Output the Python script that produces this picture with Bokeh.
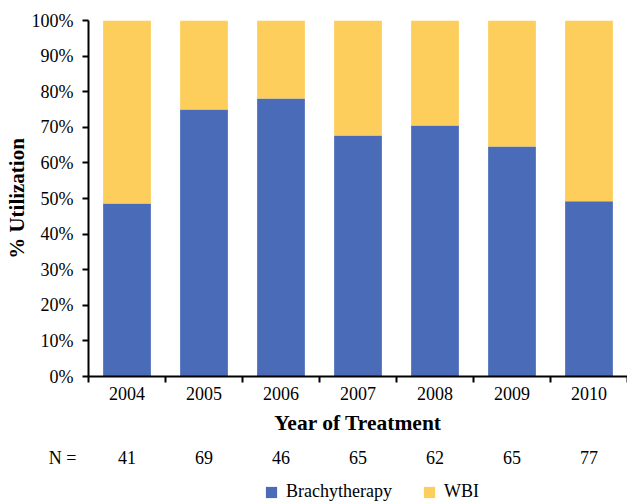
from bokeh.plotting import figure
from bokeh.layouts import column
from bokeh.models import (FixedTicker, LinearAxis, Range1d, Legend, LegendItem,
                          ColumnDataSource)
from bokeh.core.properties import value
from bokeh.embed import file_html
from bokeh.resources import INLINE

years = ["2004", "2005", "2006", "2007", "2008", "2009", "2010"]
brachy = [48.6, 75.0, 78.1, 67.7, 70.5, 64.6, 49.2]
wbi = [round(100 - b, 1) for b in brachy]
n_values = ["41", "69", "46", "65", "62", "65", "77"]
y_ticks = list(range(0, 101, 10))
series_names = ["Brachytherapy", "WBI"]

BLUE = "#4A6BB7"
YELLOW = "#FECE5C"
FONT = "Liberation Serif"

xs = list(range(1, len(years) + 1))
src = ColumnDataSource(dict(x=xs, brachy=brachy, wbi=wbi))

W = 627
TOP_H = 440
BOT_H = 62
LEFT = 88
N_ROW_Y = BOT_H - 17

# ---------------- main chart ----------------
p = figure(width=W, height=TOP_H, output_backend="svg", toolbar_location=None,
           x_range=Range1d(0.5, len(years) + 0.5), y_range=Range1d(0, 100),
           min_border_left=LEFT, min_border_right=0, min_border_top=20,
           min_border_bottom=TOP_H - 376, x_axis_location=None)
p.outline_line_color = None
p.grid.visible = False

rs = p.vbar_stack(["brachy", "wbi"], x="x", width=0.62, source=src,
                  color=[BLUE, YELLOW], line_color=None)

ya = p.yaxis[0]
ya.ticker = FixedTicker(ticks=y_ticks, minor_ticks=[])
ya.major_label_overrides = {t: f"{t}%" for t in y_ticks}
ya.axis_line_width = 2
ya.axis_line_color = "black"
ya.major_tick_line_width = 2
ya.major_tick_in = 0
ya.major_tick_out = 6
ya.minor_tick_line_color = None
ya.major_label_standoff = 9
ya.major_label_text_font = FONT
ya.major_label_text_font_size = "18px"
ya.major_label_text_color = "black"
ya.axis_label = "% Utilization"
ya.axis_label_text_font = FONT
ya.axis_label_text_font_size = "21px"
ya.axis_label_text_font_style = "bold"
ya.axis_label_text_color = "black"
ya.axis_label_standoff = 0

xa = LinearAxis(ticker=FixedTicker(ticks=xs,
                                   minor_ticks=[x - 0.5 for x in xs] + [len(xs) + 0.5]))
xa.major_label_overrides = {x: y for x, y in zip(xs, years)}
xa.axis_line_width = 2
xa.axis_line_color = "black"
xa.major_tick_line_color = None
xa.major_tick_in = 0
xa.major_tick_out = 6
xa.minor_tick_line_width = 2
xa.minor_tick_line_color = "black"
xa.minor_tick_in = 0
xa.minor_tick_out = 6
xa.major_label_standoff = 4
xa.major_label_text_font = FONT
xa.major_label_text_font_size = "18px"
xa.major_label_text_color = "black"
xa.axis_label = "Year of Treatment"
xa.axis_label_text_font = FONT
xa.axis_label_text_font_size = "21.5px"
xa.axis_label_text_font_style = "bold"
xa.axis_label_text_color = "black"
xa.axis_label_standoff = 8
p.add_layout(xa, "below")

# ---------------- N row + legend ----------------
q = figure(width=W, height=BOT_H, output_backend="svg", toolbar_location=None,
           x_range=p.x_range, y_range=Range1d(0, BOT_H),
           min_border_left=LEFT, min_border_right=0, min_border_top=0,
           min_border_bottom=0, x_axis_location=None)
q.outline_line_color = None
q.grid.visible = False

# "N =" as the single label of the left axis of the bottom strip
qa = q.yaxis[0]
qa.ticker = FixedTicker(ticks=[N_ROW_Y], minor_ticks=[])
qa.major_label_overrides = {N_ROW_Y: "N ="}
qa.axis_line_color = None
qa.major_tick_line_color = None
qa.minor_tick_line_color = None
qa.major_tick_in = 0
qa.major_tick_out = 0
qa.major_label_standoff = 12
qa.major_label_text_font = FONT
qa.major_label_text_font_size = "18px"
qa.major_label_text_color = "black"

nsrc = ColumnDataSource(dict(x=xs, n=n_values, y=[N_ROW_Y] * len(xs)))
q.text(x="x", y="y", text="n", source=nsrc, text_font=value(FONT),
       text_font_size="18px", text_color="black",
       text_align="center", text_baseline="middle")

# legend proxies (same colours as the stacked series, nothing drawn in view)
nan = float("nan")
proxies = [q.vbar(x=[nan], top=[nan], width=0.5, color=c, line_color=None)
           for c in (BLUE, YELLOW)]
legend = Legend(items=[LegendItem(label=n, renderers=[r])
                       for n, r in zip(series_names, proxies)],
                orientation="horizontal", location=(176, 0),
                glyph_width=14, glyph_height=14, label_standoff=8, spacing=30,
                label_text_font=FONT, label_text_font_size="18px",
                label_text_color="black", label_height=18,
                padding=1, margin=0, border_line_color=None,
                background_fill_alpha=0)
q.add_layout(legend, "center")

layout = column(p, q, spacing=0)
open("out.html", "w").write(file_html(layout, INLINE))
